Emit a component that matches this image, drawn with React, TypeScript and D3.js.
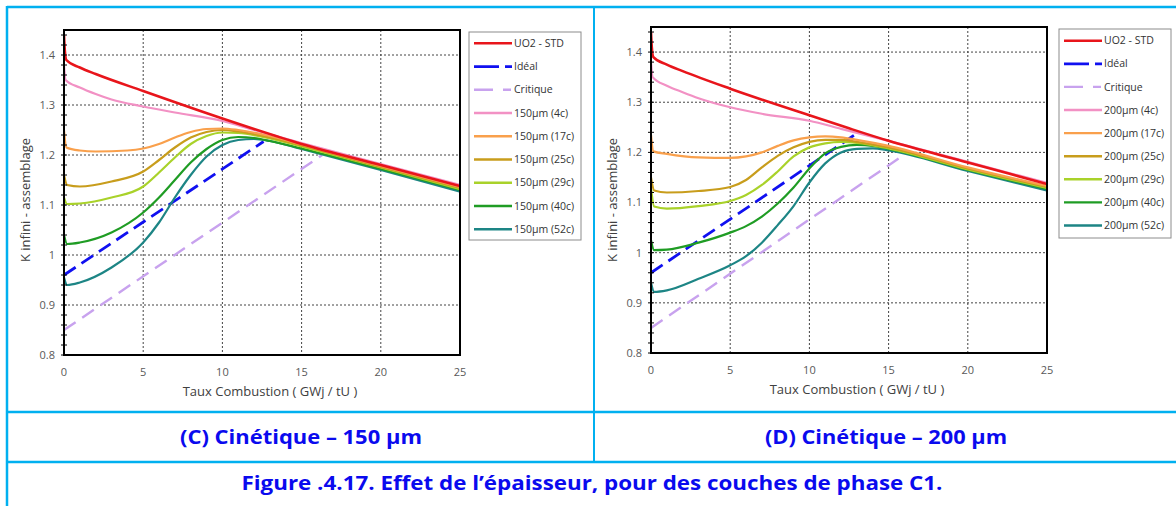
import React from "react";
import * as d3 from "d3";

type P = [number, number];

// ---------- axis definitions ----------
const xTicks = [0, 5, 10, 15, 20, 25];
const yTicks = [0.8, 0.9, 1.0, 1.1, 1.2, 1.3, 1.4];
const yTickLabels = ["0.8", "0.9", "1", "1.1", "1.2", "1.3", "1.4"];
const xDomain: [number, number] = [0, 25];
const yDomain: [number, number] = [0.8, 1.45];

// ---------- series names ----------
const namesC = ["UO2 - STD", "Idéal", "Critique", "150µm (4c)", "150µm (17c)", "150µm (25c)", "150µm (29c)", "150µm (40c)", "150µm (52c)"];
const namesD = ["UO2 - STD", "Idéal", "Critique", "200µm (4c)", "200µm (17c)", "200µm (25c)", "200µm (29c)", "200µm (40c)", "200µm (52c)"];
const seriesColors = ["#e8151b", "#1010f0", "#c8a2ee", "#f291c4", "#f9a04c", "#c89d1c", "#a9d22a", "#1f9c24", "#1d8585"];

// ---------- chart C (150 µm) ----------
const uo2StdC: P[] = [[0, 1.44], [0.05, 1.41], [0.15, 1.39], [1, 1.375], [2, 1.362], [5, 1.328], [10, 1.273], [12, 1.252], [15, 1.222], [20, 1.18], [25, 1.138]];
const idealC: P[] = [[0, 0.96], [12.6, 1.227]];
const critiqueC: P[] = [[0, 0.85], [16.3, 1.2]];
const c150_4: P[] = [[0, 1.38], [0.1, 1.35], [1, 1.335], [2, 1.322], [3, 1.311], [5, 1.297], [7, 1.285], [10, 1.268], [12, 1.25], [15, 1.224], [20, 1.182], [25, 1.14]];
const c150_17: P[] = [[0, 1.25], [0.15, 1.215], [1, 1.209], [2, 1.207], [4, 1.209], [5, 1.213], [6, 1.222], [7, 1.235], [8, 1.246], [9, 1.252], [10, 1.253], [11, 1.25], [13, 1.238], [15, 1.221], [20, 1.178], [25, 1.136]];
const c150_25: P[] = [[0, 1.16], [0.2, 1.14], [1, 1.137], [3, 1.147], [5, 1.167], [6, 1.19], [7, 1.215], [8, 1.235], [9, 1.246], [10, 1.25], [11, 1.247], [13, 1.235], [15, 1.219], [20, 1.176], [25, 1.134]];
const c150_29: P[] = [[0, 1.115], [0.2, 1.102], [1, 1.103], [3, 1.115], [5, 1.137], [6, 1.165], [7, 1.195], [8, 1.222], [9, 1.238], [10, 1.245], [11, 1.244], [13, 1.233], [15, 1.217], [20, 1.175], [25, 1.132]];
const c150_40: P[] = [[0, 1.04], [0.2, 1.022], [1, 1.025], [3, 1.045], [5, 1.085], [6, 1.115], [7, 1.15], [8, 1.185], [9, 1.212], [10, 1.23], [11, 1.236], [12, 1.234], [13, 1.228], [15, 1.213], [20, 1.172], [25, 1.13]];
const c150_52: P[] = [[0, 0.955], [0.2, 0.94], [1, 0.945], [3, 0.975], [5, 1.025], [6, 1.065], [7, 1.115], [8, 1.16], [9, 1.197], [10, 1.22], [11, 1.23], [12, 1.232], [13, 1.228], [15, 1.212], [20, 1.17], [25, 1.127]];

// ---------- chart D (200 µm) ----------
const uo2StdD: P[] = [[0, 1.44], [0.05, 1.41], [0.15, 1.39], [1, 1.375], [2, 1.362], [5, 1.327], [10, 1.274], [12.5, 1.248], [15, 1.223], [20, 1.18], [25, 1.137]];
const idealD: P[] = [[0, 0.96], [13, 1.238]];
const critiqueD: P[] = [[0, 0.85], [16.1, 1.198]];
const d200_4: P[] = [[0, 1.38], [0.1, 1.35], [1, 1.333], [2, 1.32], [3, 1.308], [5, 1.29], [7, 1.277], [10, 1.263], [12, 1.247], [15, 1.223], [20, 1.181], [25, 1.139]];
const d200_17: P[] = [[0, 1.235], [0.15, 1.202], [1, 1.197], [3, 1.19], [5, 1.189], [6, 1.192], [7, 1.2], [8, 1.213], [9, 1.224], [10, 1.23], [11, 1.232], [12, 1.23], [13, 1.225], [15, 1.213], [20, 1.17], [25, 1.133]];
const d200_25: P[] = [[0, 1.15], [0.2, 1.124], [1, 1.12], [3, 1.123], [5, 1.131], [6, 1.145], [7, 1.17], [8, 1.193], [9, 1.21], [10, 1.221], [11, 1.225], [12, 1.225], [13, 1.221], [15, 1.21], [20, 1.168], [25, 1.131]];
const d200_29: P[] = [[0, 1.13], [0.2, 1.092], [1, 1.088], [3, 1.093], [5, 1.103], [6, 1.115], [7, 1.135], [8, 1.162], [9, 1.192], [10, 1.21], [11, 1.218], [12, 1.221], [13, 1.219], [15, 1.208], [20, 1.166], [25, 1.129]];
const d200_40: P[] = [[0, 1.025], [0.2, 1.005], [1, 1.006], [3, 1.02], [5, 1.04], [6, 1.053], [7, 1.072], [8, 1.098], [9, 1.13], [10, 1.168], [11, 1.198], [12, 1.211], [13, 1.215], [14, 1.213], [15, 1.207], [20, 1.165], [25, 1.127]];
const d200_52: P[] = [[0, 0.94], [0.2, 0.922], [1, 0.925], [3, 0.948], [5, 0.975], [6, 0.993], [7, 1.02], [8, 1.055], [9, 1.093], [10, 1.14], [11, 1.178], [12, 1.2], [13, 1.207], [14, 1.208], [15, 1.204], [20, 1.163], [25, 1.124]];

const seriesC = [uo2StdC, idealC, critiqueC, c150_4, c150_17, c150_25, c150_29, c150_40, c150_52];
const seriesD = [uo2StdD, idealD, critiqueD, d200_4, d200_17, d200_25, d200_29, d200_40, d200_52];

const FONT = "'Open Sans', Lato, sans-serif";

interface ChartProps {
  id: string;
  left: number; right: number; top: number; bottom: number;
  series: P[][];
  names: string[];
  legendX: number; legendY: number; legendW: number; legendH: number;
  legendFirst: number; legendStep: number;
  yLabelX: number; yLabelY: number;
}

function Chart(p: ChartProps) {
  const x = d3.scaleLinear().domain(xDomain).range([p.left, p.right]);
  const y = d3.scaleLinear().domain(yDomain).range([p.bottom, p.top]);
  const line = d3.line<P>().x(d => x(d[0])).y(d => y(d[1])).curve(d3.curveMonotoneX);
  const minor = d3.range(0.8, 1.4501, 0.02);
  const order = [2, 1, 8, 7, 6, 5, 4, 3, 0];
  const widths = [2.6, 2.8, 2.4, 2.2, 2.2, 2.2, 2.2, 2.2, 2.2];
  const dashes: (string | undefined)[] = [undefined, "14,7", "14,8", undefined, undefined, undefined, undefined, undefined, undefined];
  const legendDash: (string | undefined)[] = [undefined, "25,6,7,100", "19,10,8,100", undefined, undefined, undefined, undefined, undefined, undefined];
  return (
    <g>
      <defs>
        <clipPath id={p.id}>
          <rect x={p.left} y={p.top} width={p.right - p.left} height={p.bottom - p.top} />
        </clipPath>
      </defs>
      {xTicks.slice(1, -1).map(t => (
        <line key={"gx" + t} x1={x(t)} x2={x(t)} y1={p.top} y2={p.bottom} stroke="#444" strokeWidth={1} strokeDasharray="2,2" />
      ))}
      {yTicks.slice(1).map(t => (
        <line key={"gy" + t} x1={p.left} x2={p.right} y1={y(t)} y2={y(t)} stroke="#444" strokeWidth={1} strokeDasharray="2,2" />
      ))}
      <g clipPath={`url(#${p.id})`}>
        {order.map(i => (
          <path key={i} d={line(p.series[i]) || ""} fill="none" stroke={seriesColors[i]} strokeWidth={widths[i]} strokeDasharray={dashes[i]} strokeLinejoin="round" />
        ))}
      </g>
      <rect x={p.left} y={p.top} width={p.right - p.left} height={p.bottom - p.top} fill="none" stroke="#000" strokeWidth={2} />
      {minor.map((t, k) => (
        <line key={"mt" + k} x1={p.left - 3} x2={p.left + 3} y1={y(t)} y2={y(t)} stroke="#000" strokeWidth={1} />
      ))}
      {yTicks.map((t, k) => (
        <text key={"yl" + k} x={p.left - 9} y={y(t)} dy="0.35em" textAnchor="end" fontSize={11} fill="#595959" fontFamily={FONT}>{yTickLabels[k]}</text>
      ))}
      {xTicks.map(t => (
        <text key={"xl" + t} x={x(t)} y={p.bottom + 21} textAnchor="middle" fontSize={11} fill="#595959" fontFamily={FONT}>{t}</text>
      ))}
      <text x={(p.left + p.right) / 2 + 8} y={p.bottom + 41} textAnchor="middle" fontSize={13} fill="#404040" fontFamily={FONT}>Taux Combustion  ( GWj / tU )</text>
      <text transform={`translate(${p.yLabelX},${p.yLabelY}) rotate(-90)`} textAnchor="middle" dy="0.35em" fontSize={13} fill="#404040" fontFamily={FONT}>K infini - assemblage</text>
      <rect x={p.legendX} y={p.legendY} width={p.legendW} height={p.legendH} fill="#fff" stroke="#8c8c8c" strokeWidth={1} />
      {p.names.map((n, i) => {
        const ly = p.legendFirst + i * p.legendStep;
        return (
          <g key={"lg" + i}>
            <line x1={p.legendX + 5} x2={p.legendX + 43} y1={ly} y2={ly} stroke={seriesColors[i]} strokeWidth={i === 1 ? 2.8 : 2.4} strokeDasharray={legendDash[i]} />
            <text x={p.legendX + 45} y={ly} dy="0.35em" fontSize={10.5} fill="#333" fontFamily={FONT}>{n}</text>
          </g>
        );
      })}
    </g>
  );
}

export default function App() {
  const cyan = "#00b0f0";
  return (
    <svg width={1176} height={506} style={{ position: "absolute", left: 0, top: 0, background: "#fff" }}>
      <rect x={0} y={0} width={1176} height={506} fill="#fff" />
      <Chart id="clipC" left={64} right={460} top={30} bottom={355} series={seriesC} names={namesC}
        legendX={469} legendY={32} legendW={112} legendH={208} legendFirst={43.3} legendStep={23.25}
        yLabelX={25} yLabelY={200} />
      <Chart id="clipD" left={651} right={1047} top={27} bottom={353} series={seriesD} names={namesD}
        legendX={1059} legendY={29} legendW={112} legendH={209} legendFirst={40.7} legendStep={23.1}
        yLabelX={612} yLabelY={200} />
      <line x1={7} x2={1176} y1={7} y2={7} stroke={cyan} strokeWidth={2.5} />
      <line x1={7} x2={7} y1={6} y2={506} stroke={cyan} strokeWidth={2.5} />
      <line x1={594} x2={594} y1={6} y2={462} stroke={cyan} strokeWidth={2} />
      <line x1={7} x2={1176} y1={412} y2={412} stroke={cyan} strokeWidth={2.5} />
      <line x1={7} x2={1176} y1={462} y2={462} stroke={cyan} strokeWidth={2.5} />
      <text x={301} y={444} textAnchor="middle" fontSize={20} fontWeight="bold" fill="#0a0aee" fontFamily={FONT} textLength={242} lengthAdjust="spacingAndGlyphs">(C) Cinétique – 150 µm</text>
      <text x={886} y={444} textAnchor="middle" fontSize={20} fontWeight="bold" fill="#0a0aee" fontFamily={FONT} textLength={242} lengthAdjust="spacingAndGlyphs">(D) Cinétique – 200 µm</text>
      <text x={592} y={490} textAnchor="middle" fontSize={20} fontWeight="bold" fill="#0a0aee" fontFamily={FONT} textLength={701} lengthAdjust="spacingAndGlyphs">Figure .4.17. Effet de l’épaisseur, pour des couches de phase C1.</text>
    </svg>
  );
}
